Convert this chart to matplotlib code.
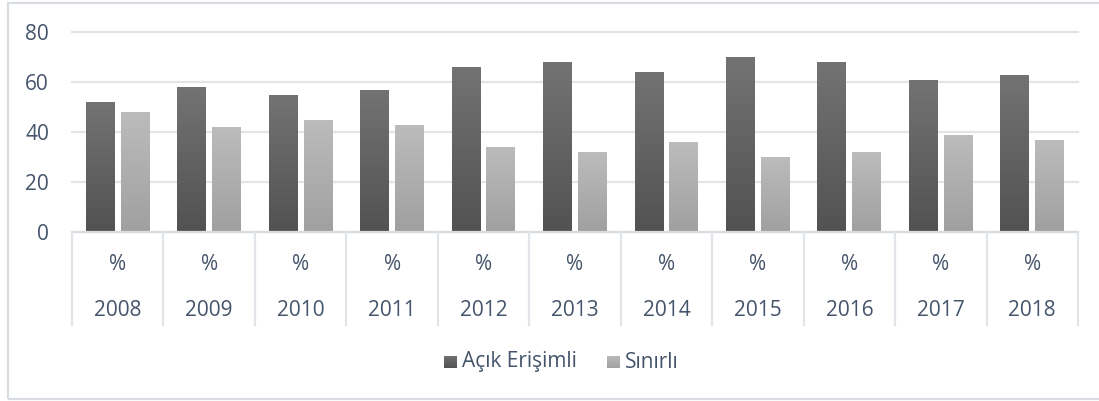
import matplotlib
matplotlib.use("Agg")
import matplotlib.pyplot as plt
import numpy as np
from matplotlib.patches import Rectangle

years = ["2008", "2009", "2010", "2011", "2012", "2013", "2014", "2015", "2016", "2017", "2018"]
sub_label = "%"
open_access = [52, 58, 55, 57, 66, 68, 64, 70, 68, 61, 63]
restricted = [48, 42, 45, 43, 34, 32, 36, 30, 32, 39, 37]
series_names = ["Açık Erişimli", "Sınırlı"]
yticks = [0, 20, 40, 60, 80]

plt.rcParams['font.family'] = ['Open Sans', 'DejaVu Sans']
TXT = "#44546a"
GRID = "#e1e5ea"

W, H = 1099, 401
fig = plt.figure(figsize=(W / 100, H / 100), dpi=100)

def fx(px):
    return px / W

def fy(py):
    return 1 - py / H

ax_l, ax_r, ax_t, ax_b = 72, 1078, 32, 232
ax = fig.add_axes([fx(ax_l), fy(ax_b), fx(ax_r - ax_l), fy(ax_t) - fy(ax_b)])

n = len(years)
x = np.arange(n)
bw = 0.317
off = 0.19

def grad_bar(xc, h, top, bot):
    r = Rectangle((xc - bw / 2, 0), bw, h, facecolor="none", edgecolor="none")
    ax.add_patch(r)
    cm = matplotlib.colors.LinearSegmentedColormap.from_list("g", [bot, top])
    grad = np.linspace(0, 1, 256).reshape(-1, 1)
    im = ax.imshow(grad, extent=(xc - bw / 2, xc + bw / 2, 0, h), origin="lower",
                   cmap=cm, aspect="auto", zorder=3)
    im.set_clip_path(r)

for i in range(n):
    grad_bar(x[i] - off, open_access[i], "#737373", "#525252")
    grad_bar(x[i] + off, restricted[i], "#bcbcbc", "#a0a0a0")

ax.set_xlim(-0.5, n - 0.5)
ax.set_ylim(0, 80)
ax.set_yticks(yticks)
ax.set_yticklabels([str(v) for v in yticks], fontsize=15, color=TXT)
ax.tick_params(axis="y", length=0, pad=16.5)
ax.set_xticks([])
for s in ax.spines.values():
    s.set_visible(False)
for v in yticks:
    ax.axhline(v, color=GRID, lw=1.6, zorder=1, clip_on=False)
ax.axhline(0, color="#d9dde3", lw=1.6, zorder=4, clip_on=False)

# category axis (multi-level)
sep_bottom = 325
unit = (ax_r - ax_l) / n
for i in range(n + 1):
    xp = ax_l + i * unit
    fig.add_artist(matplotlib.lines.Line2D([fx(xp), fx(xp)], [fy(ax_b), fy(sep_bottom)],
                                           color=GRID, lw=1.6))
for i in range(n):
    xc = ax_l + (i + 0.5) * unit
    fig.text(fx(xc), fy(264), sub_label, ha="center", va="center", fontsize=15, color=TXT)
    fig.text(fx(xc), fy(310), years[i], ha="center", va="center", fontsize=15, color=TXT)

# legend
def legend_item(px, text, top, bot):
    sq = 13
    cm = matplotlib.colors.LinearSegmentedColormap.from_list("g", [bot, top])
    lax = fig.add_axes([fx(px), fy(362 + sq / 2), fx(sq), fy(362 - sq / 2) - fy(362 + sq / 2)])
    lax.imshow(np.linspace(0, 1, 64).reshape(-1, 1), origin="lower", cmap=cm, aspect="auto")
    lax.axis("off")
    fig.text(fx(px + sq + 5), fy(362), text, ha="left", va="center", fontsize=15, color=TXT)

legend_item(444, series_names[0], "#737373", "#525252")
legend_item(607, series_names[1], "#bcbcbc", "#a0a0a0")

# outer frame
fig.add_artist(Rectangle((fx(8), fy(399)), fx(1120 - 8), fy(3) - fy(399),
                         transform=fig.transFigure, facecolor="none",
                         edgecolor="#d9dde3", lw=1.6))

fig.savefig("out.png", dpi=100)
